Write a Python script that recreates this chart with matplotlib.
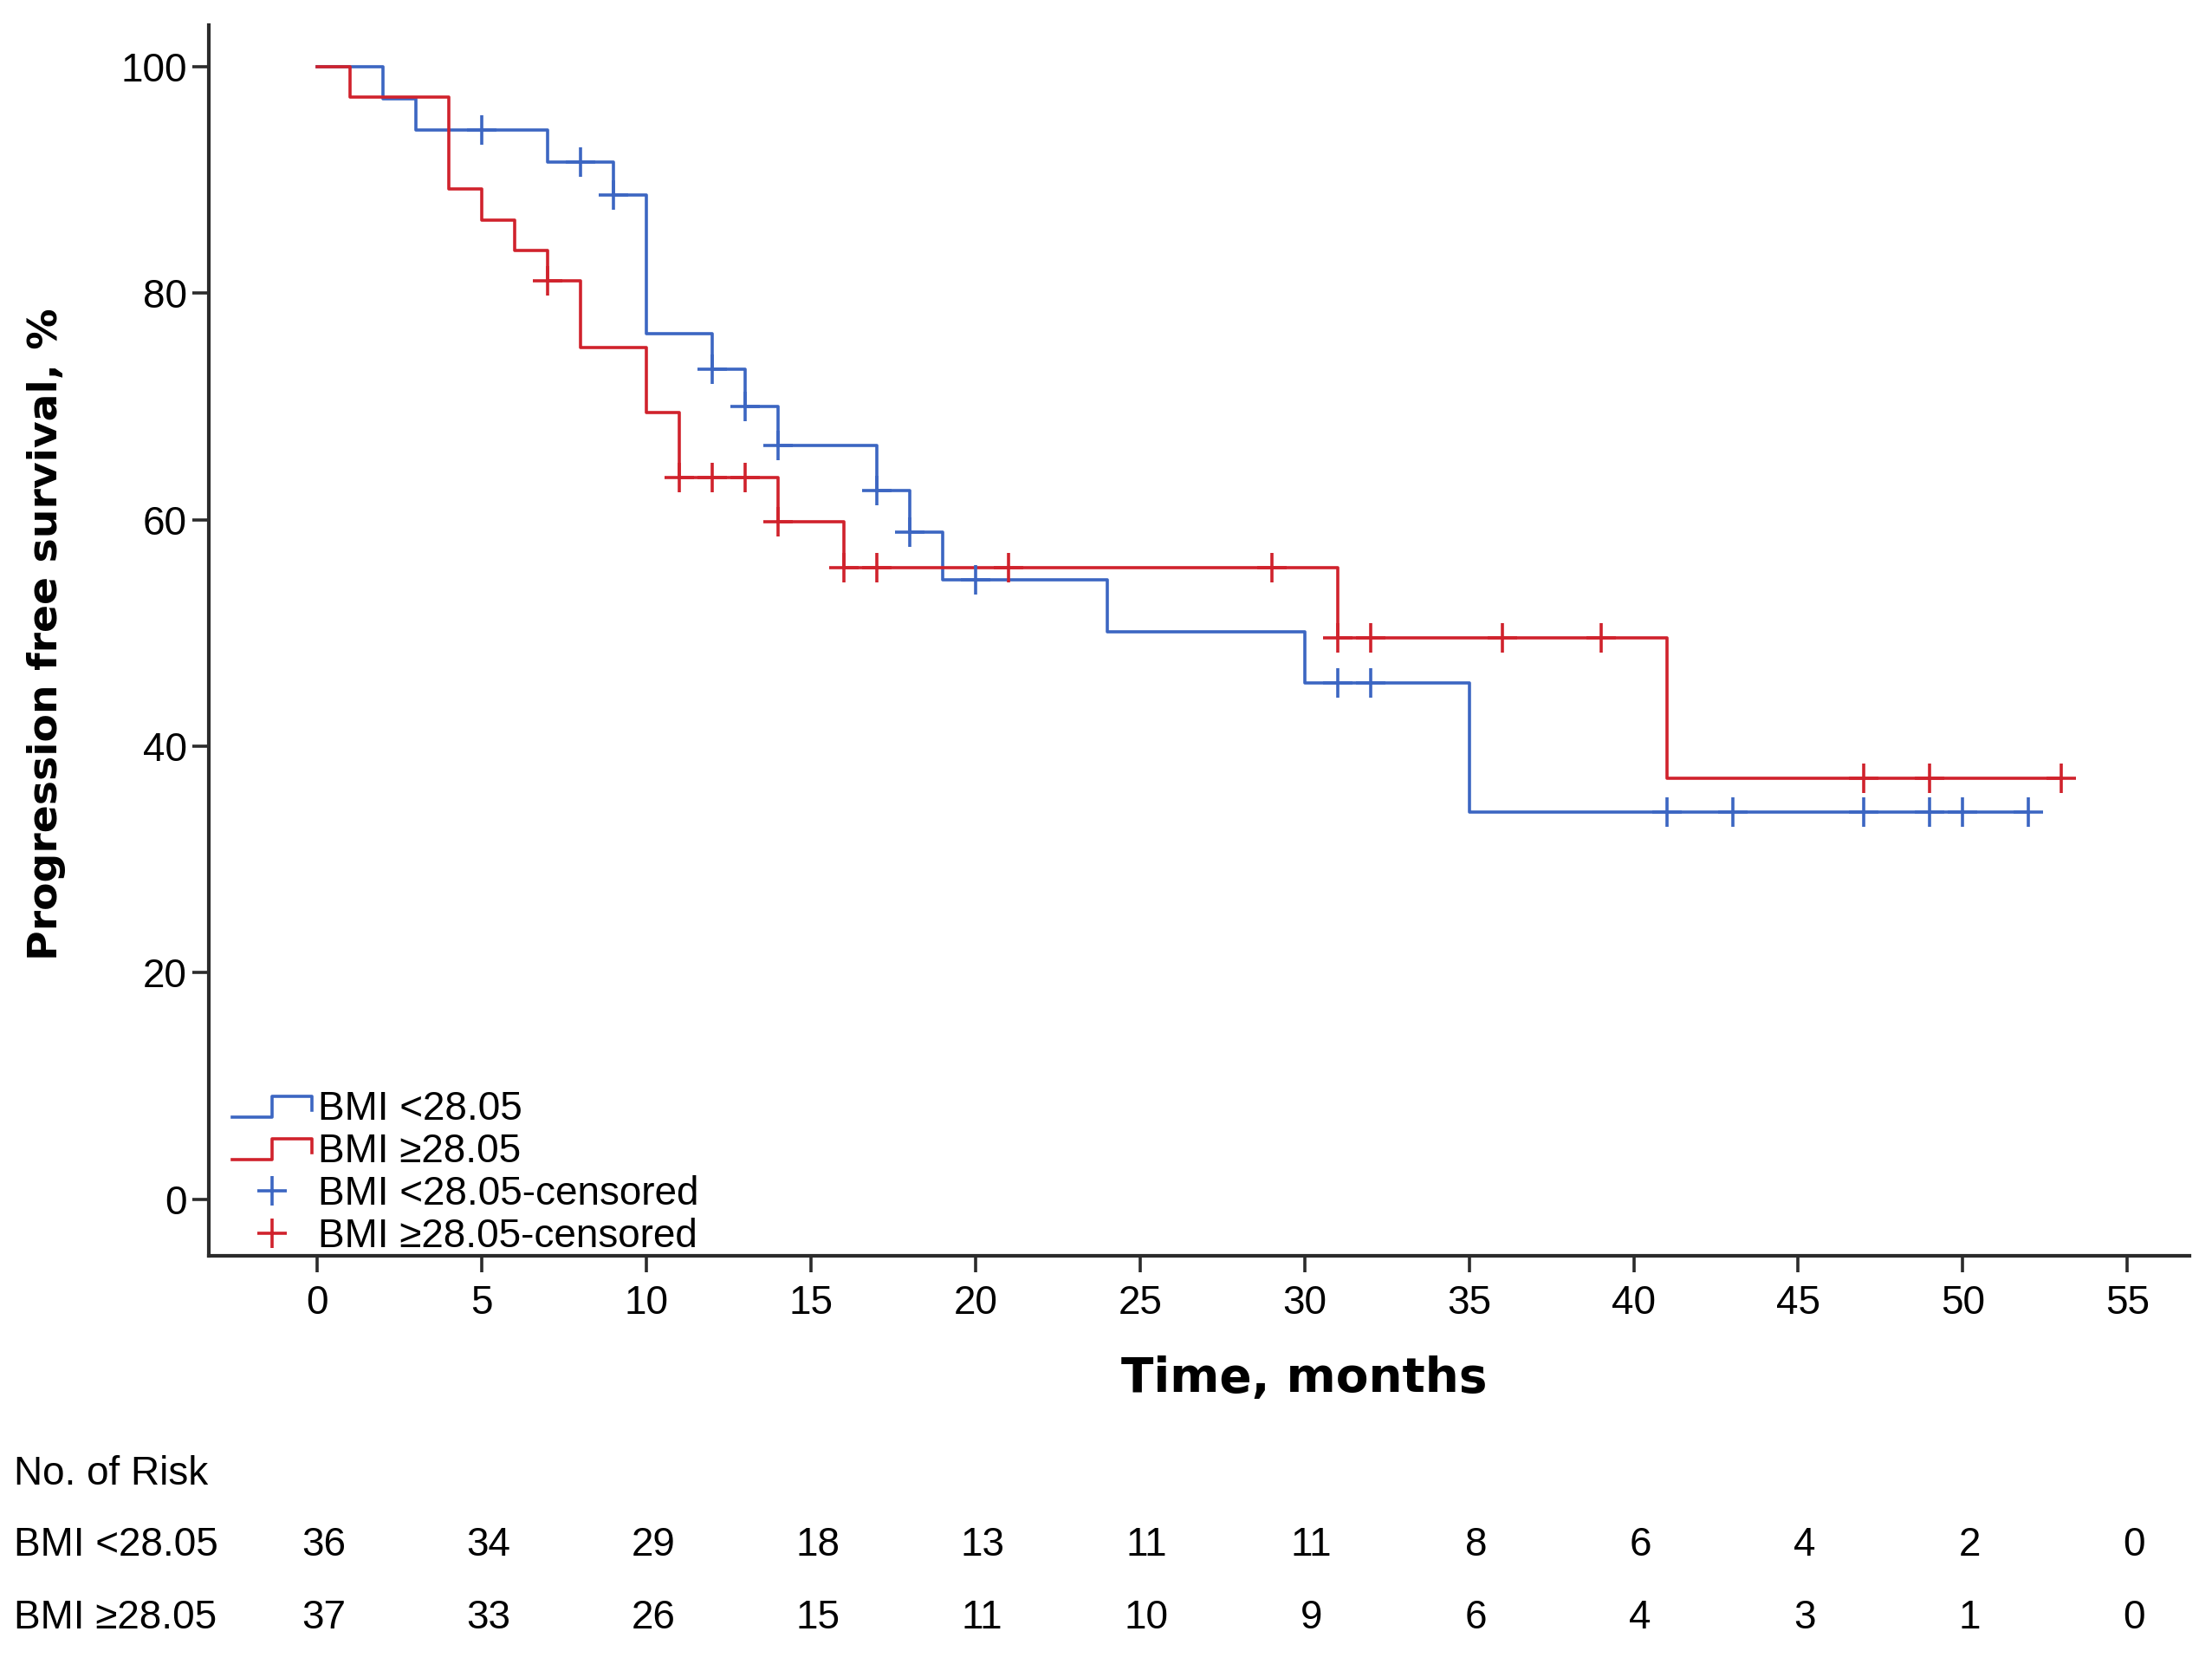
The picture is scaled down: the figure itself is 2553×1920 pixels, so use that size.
import numpy as np
import matplotlib
matplotlib.use("Agg")
import matplotlib.pyplot as plt
from matplotlib.lines import Line2D
from matplotlib.legend_handler import HandlerBase
import matplotlib.transforms as mtransforms

plt.rcParams['font.family'] = ['Liberation Sans', 'DejaVu Sans']

# Kaplan-Meier steps (time in months, survival in %)
low_times = [0, 2, 3, 7, 9, 10, 12, 13, 14, 17, 18, 19, 24, 30, 35, 52]
low_surv = [100, 97.2, 94.4, 91.6, 88.7, 76.4, 73.3, 70.0, 66.6, 62.6, 58.9, 54.7, 50.1, 45.6, 34.2, 34.2]
low_censored = [5, 8, 9, 12, 13, 14, 17, 18, 20, 31, 32, 41, 43, 47, 49, 50, 52]

high_times = [0, 1, 4, 5, 6, 7, 8, 10, 11, 14, 16, 31, 41, 53]
high_surv = [100, 97.3, 89.2, 86.5, 83.8, 81.1, 75.2, 69.5, 63.7, 59.8, 55.8, 49.6, 37.2, 37.2]
high_censored = [7, 11, 12, 13, 14, 16, 17, 21, 29, 31, 32, 36, 39, 47, 49, 53]

risk_times = [0, 5, 10, 15, 20, 25, 30, 35, 40, 45, 50, 55]
risk_low = [36, 34, 29, 18, 13, 11, 11, 8, 6, 4, 2, 0]
risk_high = [37, 33, 26, 15, 11, 10, 9, 6, 4, 3, 1, 0]

labels = ['BMI <28.05', 'BMI \u226528.05']

BLUE = '#3c66c2'
RED = '#d0222c'
AXC = '#2b2b2b'
FS = 33


def level_at(times, surv, t):
    idx = np.searchsorted(times, t, side='right') - 1
    return np.asarray(surv)[idx]


class StepHandler(HandlerBase):
    def create_artists(self, legend, orig_handle, xdescent, ydescent,
                       width, height, fontsize, trans):
        xs = [0, 0.5 * width, 0.5 * width, width, width]
        ys = [0.1 * height, 0.1 * height, 0.85 * height, 0.85 * height, 0.35 * height]
        ln = Line2D(np.array(xs) - xdescent, np.array(ys) - ydescent,
                    color=orig_handle.get_color(), lw=orig_handle.get_linewidth())
        ln.set_transform(trans)
        return [ln]


fig = plt.figure(figsize=(25.53, 19.2), dpi=100)
ax = fig.add_axes([0.0944, 0.2453, 0.8956, 0.7397])

l1, = ax.step(low_times, low_surv, where='post', color=BLUE, lw=2.6)
l2, = ax.step(high_times, high_surv, where='post', color=RED, lw=2.6)
c1, = ax.plot(low_censored, level_at(low_times, low_surv, low_censored), '+',
              color=BLUE, ms=24, mew=2.6)
c2, = ax.plot(high_censored, level_at(high_times, high_surv, high_censored), '+',
              color=RED, ms=24, mew=2.6)

ax.set_xlim(-3.3, 56.9)
ax.set_ylim(-5, 103.7)
ax.set_xticks(risk_times)
ax.set_yticks([0, 20, 40, 60, 80, 100])
ax.tick_params(labelsize=FS, width=2.6, length=14, direction='out', color=AXC)
ax.tick_params(axis='x', pad=10)
ax.tick_params(axis='y', pad=4)
for s in ['top', 'right']:
    ax.spines[s].set_visible(False)
for s in ['left', 'bottom']:
    ax.spines[s].set_linewidth(3)
    ax.spines[s].set_color(AXC)

ax.set_xlabel('Time, months', fontsize=39.5, fontweight='bold', family='DejaVu Sans', va='center')
ax.xaxis.set_label_coords(0.553, -0.1)
ax.set_ylabel('Progression free survival, %', fontsize=34, fontweight='bold',
              family='DejaVu Sans', va='center')
ax.yaxis.set_label_coords(-0.082, 0.505)

ax.legend([l1, l2, c1, c2],
          [labels[0], labels[1], labels[0] + '-censored', labels[1] + '-censored'],
          handler_map={l1: StepHandler(), l2: StepHandler()},
          loc='lower left', bbox_to_anchor=(0.012, 0.0), borderaxespad=0,
          frameon=False, fontsize=FS, handlelength=2.0, handletextpad=0.15,
          labelspacing=0.11, borderpad=0)

# number at risk table
trans = mtransforms.blended_transform_factory(ax.transData, fig.transFigure)
fig.text(0.0064, 0.114, 'No. of Risk', fontsize=FS, va='center', ha='left')
for lab, row, y in [(labels[0], risk_low, 0.0714), (labels[1], risk_high, 0.0274)]:
    fig.text(0.0064, y, lab, fontsize=FS, va='center', ha='left')
    for t, n in zip(risk_times, row):
        ax.text(t + 0.2, y, str(n), fontsize=FS, va='center', ha='center',
                transform=trans, clip_on=False)

fig.savefig('out.png', dpi=100)
